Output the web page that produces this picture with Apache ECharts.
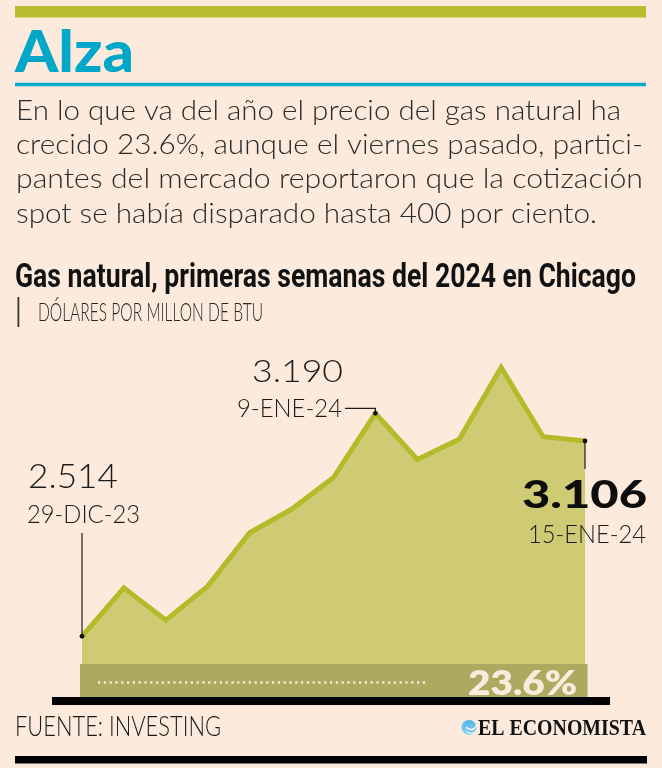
<!DOCTYPE html>
<html><head><meta charset="utf-8">
<script src="https://cdn.jsdelivr.net/npm/echarts@6/dist/echarts.min.js"></script>
<style>html,body{margin:0;padding:0;background:#FCEBDC}#c{width:662px;height:768px}</style>
</head><body><div id="c"></div>
<script>
// ---------- DATA ----------
const dates = ['29-DIC-23','1-ENE-24','2-ENE-24','3-ENE-24','4-ENE-24','5-ENE-24','8-ENE-24',
               '9-ENE-24','10-ENE-24','11-ENE-24','12-ENE-24','13-ENE-24','15-ENE-24'];
const prices = [2.514, 2.661, 2.563, 2.666, 2.828, 2.899, 2.995, 3.190, 3.050, 3.111, 3.329, 3.119, 3.106];
const yMin = 2.33, yMax = 3.40;
const titleText = 'Alza';
const bodyLines = [
  'En lo que va del año el precio del gas natural ha',
  'crecido 23.6%, aunque el viernes pasado, partici-',
  'pantes del mercado reportaron que la cotización',
  'spot se había disparado hasta 400 por ciento.'
];
const chartTitle = 'Gas natural, primeras semanas del 2024 en Chicago';
const chartSubtitle = 'DÓLARES POR MILLON DE BTU';
const calloutIdx = [0, 7, 12];
const calloutValues = ['2.514', '3.190', '3.106'];
const calloutDates = ['29-DIC-23', '9-ENE-24', '15-ENE-24'];
const changeLabel = '23.6%';
const sourceText = 'FUENTE: INVESTING';
const brandText = 'EL ECONOMISTA';

// ---------- helpers ----------
const mctx = document.createElement('canvas').getContext('2d');
function capInfo(sample, family, weight) {
  mctx.font = `${weight} 100px ${family}`;
  mctx.textBaseline = 'alphabetic';
  const cap = mctx.measureText(sample).actualBoundingBoxAscent / 100;
  mctx.textBaseline = 'middle';
  const asc = mctx.measureText(sample).actualBoundingBoxAscent / 100;
  return {cap, asc};
}
function fitText(str, left, right, capTop, capBottom, family, weight, color, sample, z) {
  const ci = capInfo(sample || 'H', family, weight);
  const fs = (capBottom - capTop) / ci.cap;
  const font = `${weight} ${fs}px ${family}`;
  mctx.font = font;
  const w = mctx.measureText(str).width;
  const sx = (right - left) / w;
  return {type: 'text', x: left, y: capTop + ci.asc * fs, scaleX: sx, scaleY: 1, z: z || 20,
    style: {text: str, font: font, fill: color, align: 'left', verticalAlign: 'middle'}};
}

const chart = echarts.init(document.getElementById('c'), null, {renderer: 'canvas'});
chart.setOption({
  backgroundColor: '#FCEBDC',
  animation: false,
  grid: {left: 82, right: 77, top: 344, bottom: 71},
  xAxis: {type: 'category', data: dates, boundaryGap: false, show: false},
  yAxis: {type: 'value', min: yMin, max: yMax, show: false},
  series: [{
    type: 'line', data: prices, symbol: 'none', z: 2,
    lineStyle: {color: '#B3BB2A', width: 5, join: 'miter', cap: 'butt'},
    areaStyle: {color: '#CFCB74', opacity: 1, origin: 'start'}
  }]
});

const P = i => chart.convertToPixel({seriesIndex: 0}, [i, prices[i]]);
const baseY = chart.convertToPixel({yAxisIndex: 0}, yMin);
const first = P(0), last = P(prices.length - 1);
const dark = '#1c1c1c';
const g = [];

// header
g.push({type: 'rect', shape: {x: 15, y: 6, width: 631, height: 11.5}, style: {fill: '#B8BD2F'}});
g.push(fitText(titleText, 15, 134, 31, 72, 'Lato', 900, '#00A7C9', 'A'));
g.push({type: 'rect', shape: {x: 15, y: 82.7, width: 631, height: 3.6}, style: {fill: '#00A9CE'}});
const lineEnds = [621, 643, 643, 597];
bodyLines.forEach((t, i) => {
  const base = 120 + i * 34.2;
  g.push(fitText(t, 16, lineEnds[i], base - 20, base, 'Lato', 300, '#2a2a2a', 'E'));
});
g.push(fitText(chartTitle, 15, 636, 263, 287, 'Roboto', 700, '#111', 'G'));
g.push({type: 'rect', shape: {x: 17.5, y: 297, width: 1.8, height: 30}, style: {fill: '#333'}});
g.push(fitText(chartSubtitle, 38, 263, 302.5, 321, 'Lato', 300, '#262626', 'D'));

// band under the area
g.push({type: 'rect', z: 5, shape: {x: first[0] - 2, y: baseY - 33, width: last[0] - first[0] + 4.5, height: 33},
  style: {fill: '#ACAA61'}});
g.push({type: 'line', z: 6, shape: {x1: 98, y1: 682.5, x2: 428, y2: 682.5},
  style: {stroke: '#F4EED6', lineWidth: 2.4, lineDash: [2.2, 3.6]}});
g.push(fitText(changeLabel, 468, 577, 670.5, 695, 'Lato', 800, '#F7EDDC', '2', 7));
g.push({type: 'rect', z: 8, shape: {x: 52, y: 697, width: 558, height: 8}, style: {fill: '#000'}});

// callouts
const pts = calloutIdx.map(P);
// 2.514
g.push({type: 'polyline', z: 9, shape: {points: [[pts[0][0], pts[0][1]], [pts[0][0], 533]]}, style: {stroke: dark, lineWidth: 1.2}});
g.push(fitText(calloutValues[0], 28, 118, 463.5, 488, 'Lato', 300, dark, '2'));
g.push(fitText(calloutDates[0], 27, 140, 503.5, 522.5, 'Lato', 300, dark, 'D'));
// 3.190
g.push({type: 'polyline', z: 9, shape: {points: [[pts[1][0], pts[1][1]], [pts[1][0], pts[1][1] - 5], [345, pts[1][1] - 5]]},
  style: {stroke: dark, lineWidth: 1.2, fill: null}});
g.push(fitText(calloutValues[1], 252, 343, 359, 382, 'Lato', 300, dark, '3'));
g.push(fitText(calloutDates[1], 237, 342, 399, 417, 'Lato', 300, dark, 'E'));
// 3.106
g.push({type: 'polyline', z: 9, shape: {points: [[pts[2][0], pts[2][1]], [pts[2][0], 469]]}, style: {stroke: dark, lineWidth: 1.2}});
g.push(fitText(calloutValues[2], 522, 647, 481, 508.5, 'Lato', 900, '#0d0d0d', '3'));
g.push(fitText(calloutDates[2], 528, 646, 523.5, 542.5, 'Lato', 300, dark, 'E'));
pts.forEach(p => g.push({type: 'circle', z: 10, shape: {cx: p[0], cy: p[1], r: 2.4}, style: {fill: '#111'}}));

// footer
g.push(fitText(sourceText, 15, 221, 716.5, 736, 'Lato', 300, '#1a1a1a', 'F'));
g.push({type: 'circle', shape: {cx: 469, cy: 727.5, r: 7.5},
  style: {fill: new echarts.graphic.LinearGradient(0, 0, 0, 1, [{offset: 0, color: '#4FB3E3'}, {offset: 1, color: '#8FD3EE'}])}});
g.push({type: 'arc', shape: {cx: 471, cy: 724, r: 5.5, startAngle: 0.2, endAngle: 2.6}, style: {stroke: '#fff', lineWidth: 1.3, fill: null}});
g.push({type: 'arc', shape: {cx: 471, cy: 727, r: 6.5, startAngle: 0.3, endAngle: 2.5}, style: {stroke: '#fff', lineWidth: 1, fill: null}});
g.push(fitText(brandText, 478, 646, 719.5, 735, 'Liberation Serif', 'bold', '#111', 'E'));
g.push({type: 'rect', shape: {x: 15, y: 756, width: 632, height: 7.5}, style: {fill: '#000'}});

chart.setOption({graphic: g});
</script>
</body></html>
